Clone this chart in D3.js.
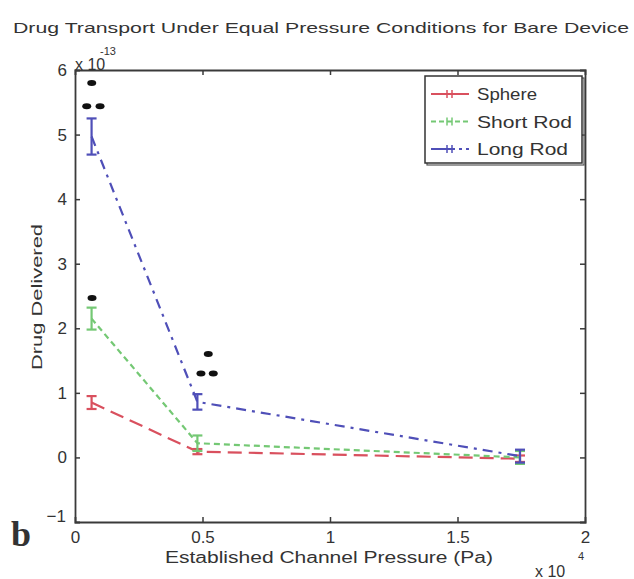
<!DOCTYPE html>
<html>
<head>
<meta charset="utf-8">
<script src="https://cdn.jsdelivr.net/npm/d3@7"></script>
<style>
  html, body { margin: 0; padding: 0; background: #fff; }
  svg { display: block; }
  text { font-family: "Liberation Sans", Arial, sans-serif; fill: #333; }
</style>
</head>
<body>
<svg id="chart" width="634" height="579"></svg>
<script>
// Established channel pressure (Pa) for each measurement
const pressures = [650, 4800, 17450];

// Drug delivered, in units of 1e-13
const sphereValues   = [0.85, 0.09, -0.02];
const sphereErrors   = [0.10, 0.04, 0.05];
const shortRodValues = [2.15, 0.22, 0.00];
const shortRodErrors = [0.17, 0.12, 0.10];
const longRodValues  = [4.97, 0.86, 0.02];
const longRodErrors  = [0.28, 0.12, 0.10];

const seriesNames = ["Sphere", "Short Rod", "Long Rod"];

// Significance markers: [pressure (Pa), value]
const sigMarks = [
  [656, 5.80], [460, 5.44], [982, 5.44],
  [668, 2.47],
  [5226, 1.60], [4939, 1.30], [5422, 1.30]
];

const xTicks = [0, 5000, 10000, 15000, 20000];
const xTickLabels = ["0", "0.5", "1", "1.5", "2"];
const yTicks = [-1, 0, 1, 2, 3, 4, 5, 6];

const svg = d3.select("#chart");
const m = { left: 75, right: 585, top: 70, bottom: 522 };

const x = d3.scaleLinear().domain([0, 20000]).range([m.left, m.right]);
const y = d3.scaleLinear().domain([-1, 6]).range([m.bottom, m.top]);

const series = [
  { name: seriesNames[0], values: sphereValues, errors: sphereErrors, color: "#d9505e", dash: "14,7", legendWidth: 60 },
  { name: seriesNames[1], values: shortRodValues, errors: shortRodErrors, color: "#74c874", dash: "6,4", legendWidth: 95 },
  { name: seriesNames[2], values: longRodValues, errors: longRodErrors, color: "#4f4fb8", dash: "10,6,3,6", legendWidth: 91 }
];

// Title
svg.append("text")
  .attr("x", 13).attr("y", 33)
  .attr("textLength", 616)
  .attr("lengthAdjust", "spacingAndGlyphs")
  .style("font-size", "15px")
  .text("Drug Transport Under Equal Pressure Conditions for Bare Device");

// Axes frame with inward ticks on all four sides
const axisColor = "#3a3a3a";
const frame = svg.append("g");

const tickLen = 5;
const axLeft = frame.append("g").attr("transform", `translate(${m.left},0)`)
  .call(d3.axisLeft(y).tickValues(yTicks).tickSize(-tickLen).tickPadding(8).tickFormat(d3.format("d")));
const axRight = frame.append("g").attr("transform", `translate(${m.right},0)`)
  .call(d3.axisRight(y).tickValues(yTicks).tickSize(-tickLen).tickFormat(""));
const axBottom = frame.append("g").attr("transform", `translate(0,${m.bottom})`)
  .call(d3.axisBottom(x).tickValues(xTicks).tickSize(-tickLen).tickPadding(9)
    .tickFormat((d, i) => xTickLabels[i]));
const axTop = frame.append("g").attr("transform", `translate(0,${m.top})`)
  .call(d3.axisTop(x).tickValues(xTicks).tickSize(-tickLen).tickFormat(""));

[axLeft, axRight, axBottom, axTop].forEach(g => {
  g.select(".domain").attr("stroke", axisColor).attr("stroke-width", 1.8);
  g.selectAll(".tick line").attr("stroke", axisColor).attr("stroke-width", 1.5);
  g.selectAll(".tick text").style("font-size", "17px").style("font-family", "'Liberation Sans', Arial, sans-serif").attr("fill", "#333");
});
// Hide end ticks that overlap the frame corners
axLeft.selectAll(".tick").filter(d => d === -1 || d === 6).select("line").remove();
axRight.selectAll(".tick").filter(d => d === -1 || d === 6).select("line").remove();
axBottom.selectAll(".tick").filter(d => d === 0 || d === 20000).select("line").remove();
axTop.selectAll(".tick").filter(d => d === 0 || d === 20000).select("line").remove();
axLeft.selectAll(".tick").filter(d => d === -1).select("text").attr("dy", "-0.05em").attr("x", -9);

// Exponent labels
svg.append("text").attr("x", 75).attr("y", 70).style("font-size", "16px").text("x 10");
svg.append("text").attr("x", 100).attr("y", 55).style("font-size", "11px").text("-13");
svg.append("text").attr("x", 535).attr("y", 577).style("font-size", "16px").text("x 10");
svg.append("text").attr("x", 578).attr("y", 560).style("font-size", "11px").text("4");

// Axis labels
svg.append("text")
  .attr("transform", `translate(42,${297}) rotate(-90)`)
  .attr("text-anchor", "middle")
  .attr("textLength", 146)
  .attr("lengthAdjust", "spacingAndGlyphs")
  .style("font-size", "15.5px")
  .text("Drug Delivered");
svg.append("text")
  .attr("x", 165).attr("y", 563)
  .attr("textLength", 328)
  .attr("lengthAdjust", "spacingAndGlyphs")
  .style("font-size", "16px")
  .text("Established Channel Pressure (Pa)");

// Panel letter
svg.append("text")
  .attr("x", 11).attr("y", 546)
  .style("font-family", "'Liberation Serif', 'Times New Roman', serif")
  .style("font-weight", "bold")
  .style("font-size", "36px")
  .attr("fill", "#111")
  .text("b");

// Data lines and error bars
const plot = svg.append("g");
const line = d3.line().x((d, i) => x(pressures[i])).y(d => y(d));

series.forEach(s => {
  plot.append("path")
    .datum(s.values)
    .attr("d", line)
    .attr("fill", "none")
    .attr("stroke", s.color)
    .attr("stroke-width", 2.2)
    .attr("stroke-dasharray", s.dash);

  const eb = plot.append("g").selectAll("g")
    .data(s.values.map((v, i) => ({ x: pressures[i], v, e: s.errors[i] })))
    .join("g")
    .attr("stroke", s.color)
    .attr("stroke-width", 2.2);
  eb.append("line")
    .attr("x1", d => x(d.x)).attr("x2", d => x(d.x))
    .attr("y1", d => y(d.v - d.e)).attr("y2", d => y(d.v + d.e));
  eb.append("line")
    .attr("x1", d => x(d.x) - 5).attr("x2", d => x(d.x) + 5)
    .attr("y1", d => y(d.v - d.e)).attr("y2", d => y(d.v - d.e));
  eb.append("line")
    .attr("x1", d => x(d.x) - 5).attr("x2", d => x(d.x) + 5)
    .attr("y1", d => y(d.v + d.e)).attr("y2", d => y(d.v + d.e));
});

// Significance markers
plot.append("g").selectAll("ellipse")
  .data(sigMarks)
  .join("ellipse")
  .attr("cx", d => x(d[0])).attr("cy", d => y(d[1]))
  .attr("rx", 4.5).attr("ry", 3)
  .attr("fill", "#111");

// Legend
const lg = svg.append("g").attr("transform", "translate(425,76)");
lg.append("rect").attr("x", 2).attr("y", 2).attr("width", 157).attr("height", 87)
  .attr("fill", "none").attr("stroke", "#555").attr("stroke-width", 1.2);
lg.append("rect").attr("width", 157).attr("height", 87)
  .attr("fill", "#fff").attr("stroke", "#333").attr("stroke-width", 1.5);
series.forEach((s, i) => {
  const yy = 18 + i * 27.5;
  const row = lg.append("g").attr("transform", `translate(0,${yy})`);
  row.append("line").attr("x1", 6).attr("x2", 44).attr("y1", 0).attr("y2", 0)
    .attr("stroke", s.color).attr("stroke-width", 2)
    .attr("stroke-dasharray", i === 0 ? null : (i === 1 ? "5,3" : "24,4,3,4"));
  row.append("line").attr("x1", 22).attr("x2", 22).attr("y1", -4).attr("y2", 4)
    .attr("stroke", s.color).attr("stroke-width", 1.5);
  row.append("line").attr("x1", 27).attr("x2", 27).attr("y1", -4).attr("y2", 4)
    .attr("stroke", s.color).attr("stroke-width", 1.5);
  row.append("text").attr("x", 52).attr("y", 6)
    .attr("textLength", s.legendWidth)
    .attr("lengthAdjust", "spacingAndGlyphs")
    .style("font-size", "17px").text(s.name);
});
</script>
</body>
</html>
